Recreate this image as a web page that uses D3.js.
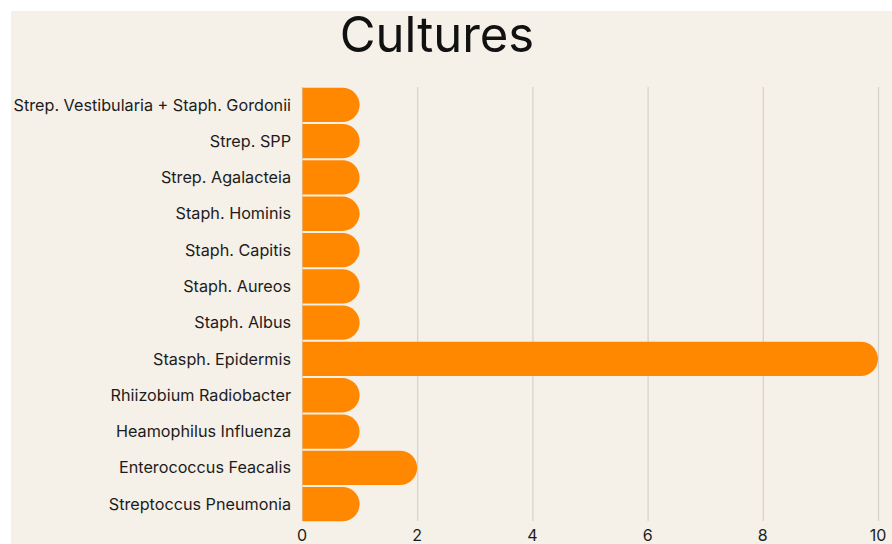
<!DOCTYPE html>
<html><head><meta charset="utf-8">
<script src="https://cdn.jsdelivr.net/npm/d3@7"></script>
<style>html,body{margin:0;padding:0;background:#fff;}svg{display:block;}</style>
</head><body>
<svg id="c" width="892" height="544"></svg>
<script>
const categories = ["Strep. Vestibularia + Staph. Gordonii","Strep. SPP","Strep. Agalacteia","Staph. Hominis","Staph. Capitis","Staph. Aureos","Staph. Albus","Stasph. Epidermis","Rhiizobium Radiobacter","Heamophilus Influenza","Enterococcus Feacalis","Streptoccus Pneumonia"];
const values = [1,1,1,1,1,1,1,10,1,1,2,1];
const xTicks = [0,2,4,6,8,10];
const title = "Cultures";

const svg = d3.select("#c");
svg.append("rect").attr("x",11).attr("y",11).attr("width",881).attr("height",533).attr("fill","#f5f0e8");

const x = d3.scaleLinear().domain([0,10]).range([302,878]);
const y = d3.scaleBand().domain(categories).range([87,522]).paddingInner(0.055).paddingOuter(0.02);

// gridlines
svg.append("g").selectAll("line").data(xTicks).join("line")
  .attr("x1",d=>x(d)+0.5).attr("x2",d=>x(d)+0.5).attr("y1",87).attr("y2",521)
  .attr("stroke","#d6d2cb").attr("stroke-width",1.2);

// bars
function barPath(x0,x1,y0,h){
  const r = Math.min(h/2, x1-x0);
  return `M${x0},${y0}H${x1-r}A${r},${h/2} 0 0 1 ${x1},${y0+h/2}A${r},${h/2} 0 0 1 ${x1-r},${y0+h}H${x0}Z`;
}
svg.append("g").selectAll("path").data(categories).join("path")
  .attr("d",(c,i)=>barPath(x(0)+0.5,x(values[i]),y(c),y.bandwidth()))
  .attr("fill","#ff8800");

// category labels
svg.append("g").selectAll("text").data(categories).join("text")
  .attr("x",291).attr("y",c=>y(c)+y.bandwidth()/2).attr("dy","0.35em")
  .attr("text-anchor","end").attr("font-family","Inter, sans-serif").attr("font-size",16.2)
  .attr("fill","#1c1c1c").text(c=>c);

// x tick labels
svg.append("g").selectAll("text").data(xTicks).join("text")
  .attr("x",d=>x(d)).attr("y",541).attr("text-anchor","middle")
  .attr("font-family","Inter, sans-serif").attr("font-size",16).attr("fill","#1c1c1c").text(d=>d);

svg.append("text").attr("x",437).attr("y",52).attr("text-anchor","middle")
  .attr("font-family","Inter, sans-serif").attr("font-size",49).attr("fill","#111").text(title);
</script>
</body></html>
